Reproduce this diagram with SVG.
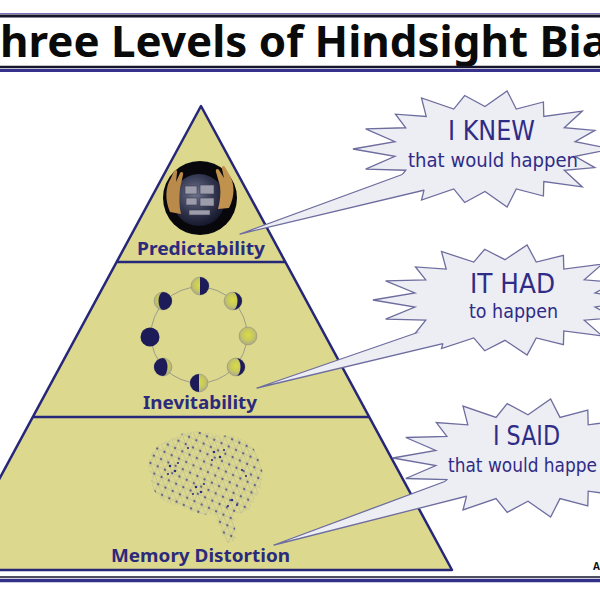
<svg xmlns="http://www.w3.org/2000/svg" width="600" height="600" viewBox="0 0 600 600">
<style>
.pyr{fill:#dcd98e;stroke:#27277a;stroke-width:2.5;stroke-linejoin:round}
.dv{stroke:#27277a;stroke-width:2.5}
.lbl{font-family:"Noto Sans","DejaVu Sans",sans-serif;font-weight:700;font-size:17px;fill:#2c2a7c}
.bub{fill:#ededf4;stroke:#6d6d9f;stroke-width:1.3}
.big{font-family:"DejaVu Sans",sans-serif;font-size:27px;fill:#2f2c86}
.sm{font-family:"DejaVu Sans",sans-serif;font-size:20px;fill:#2f2c86}
.tf{fill:#ededf4}
.ts{fill:none;stroke:#6d6d9f;stroke-width:1.3;stroke-linejoin:round}
.lit{fill:url(#moonG);stroke:#8f8d78;stroke-width:0.5}
.drk{fill:#1d1b58}
</style>
<defs>
<polygon id="star" vector-effect="non-scaling-stroke" points="100,0 70.9,12.5 86.5,31.5 62.4,36 76.6,64.3 46.3,55.2 46,79.7 24.6,67.7 17.4,98.5 0,72 -16,90.6 -24.6,67.7 -50,86.6 -46.3,55.2 -70.5,59.1 -62.4,36 -94,34.2 -70.9,12.5 -104,0 -70.9,-12.5 -94,-34.2 -62.4,-36 -70.5,-59.1 -46.3,-55.2 -50,-86.6 -24.6,-67.7 -16,-90.6 0,-72 17.4,-98.5 24.6,-67.7 46,-79.7 46.3,-55.2 76.6,-64.3 62.4,-36 86.5,-31.5 70.9,-12.5"/>
<radialGradient id="moonG" cx="0.5" cy="0.45" r="0.55">
<stop offset="0" stop-color="#d9db45"/><stop offset="0.6" stop-color="#c6c760"/><stop offset="1" stop-color="#a9a78f"/>
</radialGradient>
<radialGradient id="ballG" cx="0.42" cy="0.38" r="0.65">
<stop offset="0" stop-color="#70768e"/><stop offset="0.55" stop-color="#343850"/><stop offset="1" stop-color="#14162a"/>
</radialGradient>
<pattern id="net" width="8" height="8" patternUnits="userSpaceOnUse" patternTransform="rotate(25)">
<path d="M0,4 H8 M4,0 V8 M0,0 L8,8" stroke="#8a8ba2" stroke-width="0.35"/>
<circle cx="4" cy="4" r="0.9" fill="#3a3a7e"/>
</pattern>
<mask id="m1" maskUnits="userSpaceOnUse" x="0" y="0" width="600" height="600"><rect width="600" height="600" fill="white"/><use href="#star" transform="translate(485,149) scale(1.27,0.59)" fill="black"/></mask>
<mask id="m2" maskUnits="userSpaceOnUse" x="0" y="0" width="600" height="600"><rect width="600" height="600" fill="white"/><use href="#star" transform="translate(505,300) scale(1.27,0.56)" fill="black"/></mask>
<mask id="m3" maskUnits="userSpaceOnUse" x="0" y="0" width="600" height="600"><rect width="600" height="600" fill="white"/><use href="#star" transform="translate(528,458) scale(1.3,0.6)" fill="black"/></mask>
</defs>
<rect width="600" height="600" fill="#ffffff"/>
<g id="title">
<line x1="0" y1="13.5" x2="600" y2="13.5" stroke="#7672c0" stroke-width="1"/>
<line x1="0" y1="16" x2="600" y2="16" stroke="#15152e" stroke-width="3"/>
<text x="0" y="57" textLength="608" lengthAdjust="spacingAndGlyphs" font-family="'Noto Sans','DejaVu Sans',sans-serif" font-weight="700" font-size="43" fill="#0a0a0a">hree Levels of Hindsight Bia</text>
<line x1="0" y1="67" x2="600" y2="67" stroke="#15152e" stroke-width="2.5"/>
<line x1="0" y1="70.5" x2="600" y2="70.5" stroke="#35318d" stroke-width="3"/>
</g>
<g id="pyramid">
<polygon class="pyr" points="201,106 452,570 -50,570"/>
<line class="dv" x1="117" y1="262" x2="285" y2="262"/>
<line class="dv" x1="33" y1="417" x2="369" y2="417"/>
</g>
<g id="predictability">
<circle cx="200" cy="198" r="37" fill="#08080c"/>
<circle cx="199" cy="200" r="26" fill="url(#ballG)"/>
<path d="M170,212 C165,200 165,188 171,178 L174,171 C175,169 178,170 177,173 L176,182 L180,173 C181,171 184,172 183,175 L180,188 C179,198 179,206 181,214 Z" fill="#b98a4a"/>
<path d="M229,208 C235,196 235,184 229,174 L225,167 C224,165 221,166 222,169 L224,178 L219,170 C218,168 215,169 216,172 L220,186 C221,194 220,201 218,209 Z" fill="#c0924e"/>
<g fill="#9c9cab" stroke="#3a3d52" stroke-width="0.6">
<rect x="185" y="186" width="12" height="8"/>
<rect x="200" y="185" width="14" height="9"/>
<rect x="186" y="198" width="11" height="7"/>
<rect x="200" y="198" width="14" height="8"/>
<rect x="189" y="210" width="21" height="5"/>
</g>
<text class="lbl" x="137" y="255" textLength="128" lengthAdjust="spacingAndGlyphs">Predictability</text>
</g>
<g id="inevitability">
<circle cx="199" cy="335" r="48" fill="none" stroke="#9c9a8c" stroke-width="1"/>
<circle class="lit" cx="163" cy="301" r="9"/><path class="drk" d="M163,292 A9,9 0 0 1 163,310 A4.5,9 0 0 1 163,292 Z"/>
<circle class="lit" cx="200" cy="286" r="9"/><path class="drk" d="M200,277 A9,9 0 0 1 200,295 Z"/>
<circle class="lit" cx="233" cy="301" r="9"/><path class="drk" d="M233,292 A9,9 0 0 1 233,310 A4.5,9 0 0 0 233,292 Z"/>
<circle class="lit" cx="248" cy="336" r="9"/>
<circle class="lit" cx="236" cy="367" r="9"/><path class="drk" d="M236,358 A9,9 0 0 1 236,376 A4.5,9 0 0 0 236,358 Z"/>
<circle class="lit" cx="199" cy="383" r="9"/><path class="drk" d="M199,374 A9,9 0 0 0 199,392 Z"/>
<circle class="lit" cx="163" cy="367" r="9"/><path class="drk" d="M163,358 A9,9 0 0 0 163,376 A4.5,9 0 0 0 163,358 Z"/>
<circle class="drk" cx="150" cy="337" r="9.5"/>
<text class="lbl" x="143" y="409" textLength="114" lengthAdjust="spacingAndGlyphs">Inevitability</text>
</g>
<g id="memory-distortion">
<path d="M152,478 C143,462 152,444 170,440 C182,430 205,429 220,436 C236,433 254,442 258,458 C266,470 263,490 254,500 C252,510 242,516 234,512 L236,538 C234,544 226,544 224,538 L214,514 C202,516 188,512 181,505 C165,506 150,494 152,478 Z" fill="url(#net)"/>
<g fill="#2d2d84">
<circle cx="170" cy="466" r="1.3"/><circle cx="175" cy="471" r="1.3"/><circle cx="168" cy="474" r="1.1"/><circle cx="178" cy="463" r="1.1"/>
<circle cx="214" cy="452" r="1.3"/><circle cx="220" cy="457" r="1.3"/><circle cx="212" cy="460" r="1.1"/><circle cx="224" cy="450" r="1.1"/>
<circle cx="196" cy="487" r="1.3"/><circle cx="201" cy="492" r="1.3"/><circle cx="193" cy="494" r="1.1"/><circle cx="204" cy="484" r="1.1"/>
<circle cx="232" cy="500" r="1.3"/><circle cx="237" cy="505" r="1.1"/><circle cx="228" cy="506" r="1.1"/>
<circle cx="242" cy="470" r="1.1"/><circle cx="246" cy="476" r="1.1"/><circle cx="188" cy="448" r="1.1"/>
</g>
<text class="lbl" x="111" y="562" textLength="179" lengthAdjust="spacingAndGlyphs">Memory Distortion</text>
</g>
<g id="bubble-knew">
<use href="#star" class="bub" transform="translate(485,149) scale(1.27,0.59)"/>
<text class="big" x="448" y="140" textLength="87" lengthAdjust="spacingAndGlyphs">I KNEW</text>
<text class="sm" x="408" y="167" textLength="170" lengthAdjust="spacingAndGlyphs">that would happen</text>
</g>
<g id="bubble-had">
<use href="#star" class="bub" transform="translate(505,300) scale(1.27,0.56)"/>
<text class="big" x="470" y="293" textLength="85" lengthAdjust="spacingAndGlyphs">IT HAD</text>
<text class="sm" x="469" y="318" textLength="89" lengthAdjust="spacingAndGlyphs">to happen</text>
</g>
<g id="bubble-said">
<use href="#star" class="bub" transform="translate(528,458) scale(1.3,0.6)"/>
<text class="big" x="493" y="445" textLength="67" lengthAdjust="spacingAndGlyphs">I SAID</text>
<text class="sm" x="448" y="472" textLength="149" lengthAdjust="spacingAndGlyphs">that would happe</text>
</g>
<g id="connectors">
<polygon class="tf" points="420,168 240,234 450,184"/>
<polyline class="ts" points="420,168 240,234 450,184" mask="url(#m1)"/>
<polygon class="tf" points="445,323 257,388 490,332.4"/>
<polyline class="ts" points="445,323 257,388 490,332.4" mask="url(#m2)"/>
<polygon class="tf" points="465,474 274,545 495,489"/>
<polyline class="ts" points="465,474 274,545 495,489" mask="url(#m3)"/>
</g>
<g id="footer">
<text x="593" y="570" font-family="'Noto Sans',sans-serif" font-weight="700" font-size="10" fill="#111">A</text>
<line x1="0" y1="577" x2="600" y2="577" stroke="#15152e" stroke-width="1.5"/>
<line x1="0" y1="580.5" x2="600" y2="580.5" stroke="#34308a" stroke-width="3.5"/>
</g>
</svg>
